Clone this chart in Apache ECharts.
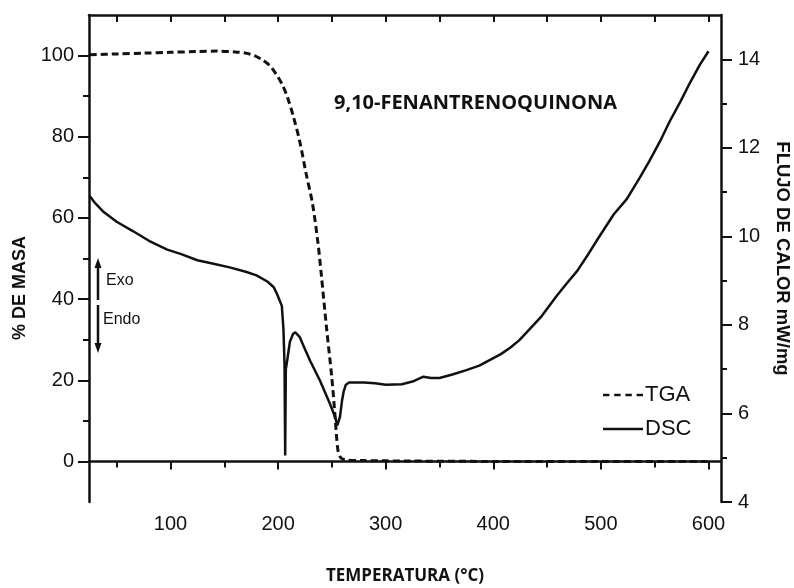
<!DOCTYPE html>
<html>
<head>
<meta charset="utf-8">
<script src="https://cdn.jsdelivr.net/npm/echarts@6/dist/echarts.min.js"></script>
<style>
  html, body { margin: 0; padding: 0; background: #fff; }
  #chart { width: 794px; height: 588px; }
</style>
</head>
<body>
<div id="chart"></div>
<script>
// temperatures (°C) and values
const tgaTemp = [25, 50, 75, 100, 125, 143, 160, 170, 178, 185, 192, 198, 204, 209, 214, 220, 226, 232, 237, 240, 245, 250, 253, 255.5, 258, 262, 280, 320, 400, 500, 599]
const tgaMass = [100.2, 100.4, 100.6, 100.8, 101, 101.1, 100.9, 100.6, 100, 99, 97.6, 95.5, 92.8, 89.5, 85.2, 79, 71, 63.5, 54, 46.5, 33, 20.5, 11, 3, 1, 0.4, 0.2, 0.1, 0, 0, 0]

const dscTemp = [25, 30, 38, 50, 65, 80, 97, 110, 125, 140, 155, 170, 180, 190, 196, 199, 201, 203.5, 205, 206, 206.6, 207.2, 208.5, 211, 214, 216, 220, 225, 230, 239, 248, 253, 255, 257.5, 259.5, 261, 263, 266, 280, 290, 300, 315, 325, 335, 342, 350, 362, 375, 387, 397, 407, 416, 424, 431, 445, 459, 468, 478, 487, 496, 504, 512, 524, 536, 545, 555, 564, 574, 583, 592, 600]
const dscFlow = [10.91, 10.75, 10.55, 10.33, 10.12, 9.9, 9.7, 9.6, 9.46, 9.38, 9.3, 9.2, 9.12, 8.98, 8.85, 8.7, 8.58, 8.43, 7.9, 7.1, 5.05, 7.0, 7.2, 7.62, 7.8, 7.83, 7.73, 7.45, 7.18, 6.74, 6.23, 5.92, 5.73, 5.92, 6.3, 6.5, 6.65, 6.7, 6.7, 6.68, 6.65, 6.66, 6.72, 6.83, 6.8, 6.8, 6.88, 6.98, 7.08, 7.21, 7.34, 7.49, 7.65, 7.83, 8.2, 8.66, 8.93, 9.22, 9.55, 9.9, 10.2, 10.5, 10.84, 11.32, 11.7, 12.15, 12.6, 13.05, 13.48, 13.88, 14.18]

const massTicks = [0, 20, 40, 60, 80, 100]
const flowTicks = [4, 6, 8, 10, 12, 14]
const tempTicks = [100, 200, 300, 400, 500, 600]
const tempTicksTop = [50, 100, 150, 200, 250, 300, 350, 400, 450, 500, 550, 600]

const chart = echarts.init(document.getElementById('chart'), null, { renderer: 'canvas' })

const axisFont = { fontFamily: 'Liberation Sans', fontSize: 20, color: '#111' }
const axisLine = { show: true, lineStyle: { color: '#111', width: 2.5 } }
const tickStyle = { color: '#111', width: 2 }

const xBase = {
  type: 'value',
  min: 24.3,
  max: 611.6,
  minInterval: 100,
  maxInterval: 100,
  splitLine: { show: false },
  axisLine: axisLine
}

chart.setOption({
  animation: false,
  backgroundColor: '#fff',
  grid: { left: 89, right: 73, top: 15, bottom: 86, containLabel: false, outerBoundsMode: 'none' },
  title: {
    text: '9,10-FENANTRENOQUINONA',
    left: 329,
    top: 88,
    textStyle: { fontFamily: 'Open Sans', fontWeight: 'bold', fontSize: 20, color: '#111' }
  },
  legend: {
    orient: 'vertical',
    left: 598,
    top: 379,
    itemWidth: 40,
    itemHeight: 16,
    itemGap: 12,
    textStyle: { fontFamily: 'Liberation Sans', fontSize: 22, color: '#111', padding: [0, 0, 0, -3] },
    data: [
      { name: 'TGA', icon: 'path://M0,7h6v2.5h-6zM10.5,7h6v2.5h-6zM21,7h6v2.5h-6zM31.5,7h6v2.5h-6z', itemStyle: { color: '#111' } },
      { name: 'DSC', icon: 'path://M0,7h38v2.5h-38z', itemStyle: { color: '#111' } }
    ]
  },
  xAxis: [
    Object.assign({}, xBase, {
      position: 'bottom',
      name: 'TEMPERATURA (°C)',
      nameLocation: 'middle',
      nameGap: 66,
      nameTextStyle: { fontFamily: 'Open Sans', fontWeight: 'bold', fontSize: 17, color: '#111' },
      axisTick: { show: true, inside: false, length: 8, customValues: tempTicks, lineStyle: tickStyle },
      minorTick: { show: true, splitNumber: 2, length: 6, lineStyle: tickStyle },
      axisLabel: {
        show: true, margin: 12, ...axisFont, customValues: tempTicks,
        formatter: v => tempTicks.includes(v) ? String(v) : ''
      }
    }),
    Object.assign({}, xBase, {
      position: 'top',
      axisTick: { show: true, inside: true, length: 7, customValues: tempTicksTop, lineStyle: tickStyle },
      axisLabel: { show: false }
    })
  ],
  yAxis: [
    {
      type: 'value',
      min: -10,
      max: 110,
      minInterval: 20,
      maxInterval: 20,
      position: 'left',
      splitLine: { show: false },
      axisLine: axisLine,
      axisTick: { show: true, inside: false, length: 11, customValues: massTicks, lineStyle: tickStyle },
      minorTick: { show: true, splitNumber: 2, length: 6, lineStyle: tickStyle },
      axisLabel: {
        show: true, margin: 15, ...axisFont, customValues: massTicks,
        formatter: v => massTicks.includes(v) ? String(v) : ''
      }
    },
    {
      type: 'value',
      min: 4,
      max: 15,
      interval: 2,
      position: 'right',
      splitLine: { show: false },
      axisLine: axisLine,
      name: 'FLUJO DE CALOR mW/mg',
      nameLocation: 'middle',
      nameRotate: -90,
      nameGap: 52,
      nameTextStyle: { fontFamily: 'Liberation Sans', fontWeight: 'bold', fontSize: 18.5, color: '#111' },
      axisTick: { show: true, inside: false, length: 11, customValues: flowTicks, lineStyle: tickStyle },
      minorTick: { show: true, splitNumber: 2, length: 6, lineStyle: tickStyle },
      axisLabel: {
        show: true, margin: 17, ...axisFont, customValues: flowTicks,
        formatter: v => flowTicks.includes(v) ? String(v) : ''
      }
    }
  ],
  graphic: [
    {
      type: 'text', left: 11, top: 236, rotation: Math.PI / 2,
      style: { text: '% DE MASA', font: 'bold 18px "Liberation Sans"', fill: '#111' }
    },
    { type: 'line', shape: { x1: 98, y1: 266, x2: 98, y2: 300 }, style: { stroke: '#111', lineWidth: 2.5 } },
    { type: 'polygon', shape: { points: [[94.5, 268], [101.5, 268], [98, 258]] }, style: { fill: '#111' } },
    { type: 'line', shape: { x1: 98, y1: 305, x2: 98, y2: 345 }, style: { stroke: '#111', lineWidth: 2.5 } },
    { type: 'polygon', shape: { points: [[94.5, 343], [101.5, 343], [98, 353]] }, style: { fill: '#111' } },
    { type: 'text', left: 106, top: 273, style: { text: 'Exo', font: '16px "Liberation Sans"', fill: '#111' } },
    { type: 'text', left: 103, top: 312, style: { text: 'Endo', font: '16px "Liberation Sans"', fill: '#111' } }
  ],
  series: [
    {
      name: 'TGA',
      type: 'line',
      xAxisIndex: 0,
      yAxisIndex: 0,
      symbol: 'none',
      smooth: 0.3,
      lineStyle: { color: '#111', width: 3, type: [7, 4] },
      itemStyle: { color: '#111' },
      data: tgaTemp.map((t, i) => [t, tgaMass[i]])
    },
    {
      name: 'DSC',
      type: 'line',
      xAxisIndex: 0,
      yAxisIndex: 1,
      symbol: 'none',
      smooth: false,
      lineStyle: { color: '#111', width: 2.5 },
      itemStyle: { color: '#111' },
      data: dscTemp.map((t, i) => [t, dscFlow[i]])
    }
  ]
})
</script>
</body>
</html>
